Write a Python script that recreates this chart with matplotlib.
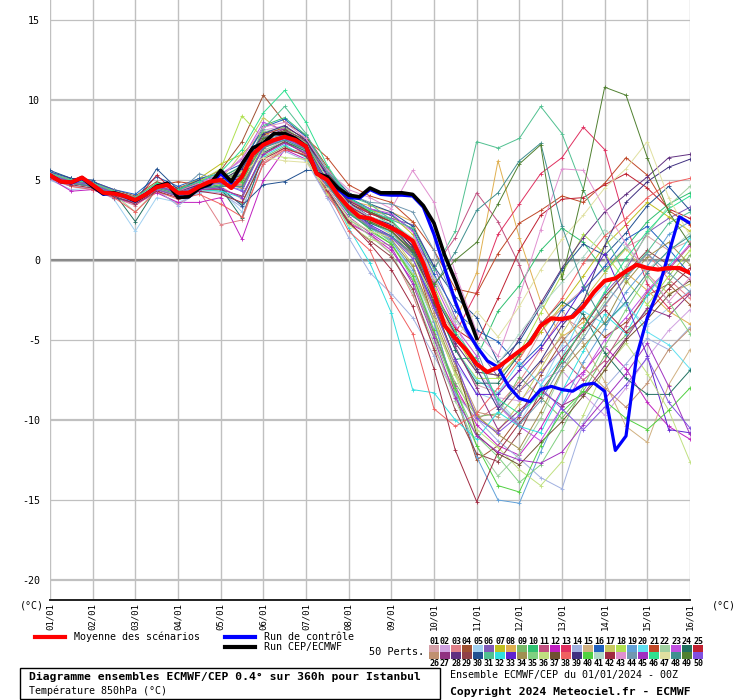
import numpy as np
import matplotlib.pyplot as plt
from matplotlib.patches import Rectangle

plt.rcParams['font.family'] = ['DejaVu Sans Mono', 'DejaVu Sans']

# echeances (heures)
hours_6h = np.arange(0, 361, 6)
hours_12h = np.arange(0, 361, 12)
hours_cep = np.arange(0, 241, 6)
day_labels = ['01/01', '02/01', '03/01', '04/01', '05/01', '06/01', '07/01', '08/01',
              '09/01', '10/01', '11/01', '12/01', '13/01', '14/01', '15/01', '16/01']
y_ticks = [-20, -15, -10, -5, 0, 5, 10, 15]

# moyenne, controle, run deterministe (pas 6h)
mean_run = [5.3, 4.9, 4.85, 5.15, 4.7, 4.2, 4.15, 4.0, 3.75, 4.1, 4.55, 4.7, 4.2, 4.2, 4.6, 4.9,
            5.0, 4.5, 5.2, 6.6, 7.2, 7.5, 7.7, 7.5, 7.1, 5.4, 5.0, 4.05, 3.3, 2.7, 2.6, 2.3,
            2.0, 1.65, 1.2, -0.2, -2.1, -4.1, -4.9, -5.6, -6.5, -7.0, -6.7, -6.2, -5.7, -5.2,
            -4.1, -3.65, -3.7, -3.55, -2.9, -2.0, -1.3, -1.15, -0.7, -0.3, -0.5, -0.6, -0.5,
            -0.5, -0.8]
control_run = [5.3, 4.9, 4.8, 5.1, 4.6, 4.1, 4.2, 4.0, 3.7, 4.1, 4.6, 4.8, 3.9, 3.95, 4.5,
               4.7, 5.4, 4.8, 6.0, 7.0, 7.3, 7.9, 7.9, 7.6, 7.1, 5.4, 5.2, 4.4, 3.9, 3.85,
               4.4, 4.1, 4.05, 4.05, 4.0, 3.3, 1.6, -0.5, -2.6, -4.3, -5.4, -6.3, -6.7, -7.9,
               -8.65, -8.85, -8.1, -7.9, -8.1, -8.2, -7.8, -7.7, -8.2, -11.9, -11.0, -6.0,
               -3.6, -1.9, 0.4, 2.7, 2.3]
cep_run = [5.3, 4.9, 4.85, 5.15, 4.6, 4.15, 4.2, 4.0, 3.7, 4.1, 4.6, 4.8, 3.9, 3.95, 4.5,
           4.75, 5.6, 4.9, 6.0, 7.0, 7.3, 7.9, 7.9, 7.6, 7.1, 5.4, 5.2, 4.5, 4.05, 3.95, 4.5,
           4.2, 4.2, 4.2, 4.1, 3.4, 2.3, 0.3, -1.3, -3.1, -4.9]

# 50 perturbations (pas 12h)
p01 = [5.2, 4.8, 4.6, 4.1, 3.6, 4.5, 4.0, 4.5, 4.6, 3.8, 6.8, 7.5, 6.8, 4.6, 3.0, 2.4, 2.0, 0.6, -2.4, -5.6, -7.8, -8.3, -6.9, -4.5, -3.0, -1.8, -0.5, 0.8, 1.5, 0.6, 1.2]
p02 = [5.4, 5.0, 4.8, 4.3, 3.9, 4.7, 4.4, 4.9, 5.4, 6.2, 8.1, 8.4, 7.5, 5.2, 3.6, 3.2, 2.6, 1.8, -1.0, -4.0, -6.9, -8.6, -8.8, -7.5, -6.9, -8.4, -9.7, -8.0, -6.1, -4.4, -3.1]
p03 = [5.1, 4.6, 4.4, 3.9, 3.4, 4.3, 3.5, 4.3, 2.2, 2.5, 6.1, 7.0, 6.7, 4.1, 2.4, 1.6, 0.4, -2.2, -5.5, -8.2, -10.0, -9.1, -7.6, -5.6, -3.5, -4.4, -2.9, -1.0, 0.4, -1.2, -2.4]
p04 = [5.5, 5.1, 4.9, 4.4, 4.0, 4.9, 4.5, 5.0, 5.6, 7.4, 10.3, 8.6, 7.8, 5.8, 3.8, 3.0, 2.5, 0.4, -3.8, -8.4, -12.5, -11.6, -9.8, -7.2, -5.1, -3.6, -4.8, -3.9, -2.2, -1.5, -2.8]
p05 = [5.0, 4.4, 4.5, 3.8, 1.8, 3.9, 3.6, 4.2, 4.4, 3.0, 7.0, 7.6, 6.6, 4.4, 2.9, 2.2, 1.2, -0.8, -4.3, -6.5, -8.3, -8.8, -10.2, -7.9, -5.3, -3.0, -1.6, -2.9, -4.1, -3.0, -1.9]
p06 = [5.3, 4.9, 4.8, 4.2, 3.8, 4.6, 4.3, 4.8, 5.2, 5.8, 7.9, 8.2, 7.4, 5.3, 3.5, 2.9, 2.6, 2.2, -0.4, -3.6, -5.5, -7.3, -8.2, -7.0, -5.6, -4.3, -2.1, -0.6, 1.7, 2.6, 3.3]
p07 = [5.4, 5.0, 4.7, 4.2, 3.9, 4.8, 4.4, 5.1, 6.0, 6.6, 8.0, 7.3, 7.0, 4.9, 3.4, 3.1, 2.8, 1.6, -1.6, -4.8, -7.0, -7.2, -6.0, -4.5, -2.8, -1.0, 0.9, 2.2, 3.6, 2.7, 1.8]
p08 = [5.2, 4.8, 4.6, 4.1, 3.7, 4.5, 4.1, 4.5, 4.8, 5.3, 7.3, 7.9, 7.2, 5.0, 3.7, 3.4, 3.0, 2.4, -1.2, -3.8, -0.8, 6.2, 1.4, -2.6, -4.8, -3.9, -2.3, -0.8, -1.9, -3.2, -4.0]
p09 = [5.3, 4.9, 4.7, 4.2, 3.7, 4.4, 4.0, 4.4, 4.3, 3.5, 6.4, 7.1, 6.5, 4.2, 2.5, 1.8, 1.0, -0.9, -4.6, -7.7, -9.8, -9.6, -7.3, -8.6, -9.9, -8.2, -6.0, -4.7, -3.1, -1.4, 0.3]
p10 = [5.2, 4.8, 4.8, 4.3, 3.9, 4.7, 4.3, 4.7, 5.1, 5.9, 8.4, 8.9, 7.8, 5.6, 3.9, 3.0, 2.2, 0.6, -3.0, -6.2, -6.1, -3.2, -1.6, 0.6, 2.0, 1.1, -0.7, 0.8, 2.4, 3.5, 4.2]
p11 = [5.4, 5.0, 4.9, 4.3, 3.9, 4.6, 4.2, 4.7, 4.9, 4.9, 7.3, 7.8, 7.1, 5.4, 3.8, 2.9, 2.4, 1.2, -0.5, 1.4, 4.2, 2.4, -0.3, -3.9, -6.2, -7.5, -6.3, -4.1, -2.0, -0.6, 0.9]
p12 = [5.1, 4.3, 4.4, 3.9, 3.5, 4.2, 3.6, 3.6, 3.9, 1.3, 5.0, 6.9, 6.3, 4.0, 2.3, 1.6, 0.6, -1.3, -4.6, -7.9, -10.3, -11.6, -12.2, -10.5, -8.1, -7.0, -5.4, -6.8, -8.9, -10.4, -11.2]
p13 = [5.3, 4.9, 4.6, 4.2, 3.8, 4.6, 4.2, 4.7, 4.8, 4.6, 7.0, 7.7, 7.0, 5.1, 3.4, 2.6, 1.9, 0.4, -2.8, -4.6, -2.0, 1.6, 3.5, 5.4, 6.4, 8.3, 6.9, 2.2, -1.5, -3.0, -2.0]
p14 = [5.0, 4.6, 4.5, 4.0, 3.5, 4.4, 3.4, 4.3, 4.2, 3.3, 6.0, 6.8, 6.2, 3.9, 1.4, -0.8, -2.1, -3.6, -6.0, -8.4, -9.9, -11.3, -12.4, -13.6, -14.3, -10.2, -8.0, -6.5, -4.9, -5.6, -4.2]
p15 = [5.2, 4.9, 4.7, 4.2, 3.8, 4.6, 4.2, 4.6, 4.9, 5.1, 7.4, 7.9, 7.2, 5.0, 3.3, 2.5, 2.1, 1.3, -1.8, -4.9, -6.6, -7.3, -5.9, -4.0, -3.1, -5.2, -7.6, -10.4, -11.4, -7.8, -5.6]
p16 = [5.5, 5.1, 4.9, 4.4, 4.1, 5.2, 4.6, 5.1, 5.4, 6.0, 8.3, 8.8, 7.7, 5.5, 3.9, 3.2, 2.8, 1.9, -0.9, -3.2, -4.4, -5.1, -6.6, -5.3, -3.1, -1.9, -0.4, 1.3, 2.1, 0.7, -0.9]
p17 = [5.3, 4.8, 4.6, 4.1, 3.6, 4.4, 4.1, 4.6, 5.0, 6.7, 8.9, 7.9, 7.3, 5.1, 3.4, 2.4, 1.6, -0.3, -3.9, -7.1, -9.8, -10.7, -9.0, -6.8, -4.6, -2.5, -0.8, 0.7, -0.9, -2.1, -1.5]
p18 = [5.4, 5.0, 4.8, 4.3, 3.9, 4.7, 4.4, 4.9, 5.7, 9.0, 7.6, 8.0, 7.1, 4.8, 3.1, 2.0, 1.5, 0.3, -2.6, -5.6, -7.4, -7.4, -5.8, -3.3, -0.9, 1.6, 0.4, -1.3, -2.8, -1.0, 0.6]
p19 = [5.2, 4.8, 4.6, 4.1, 3.7, 4.5, 4.2, 4.6, 4.7, 4.4, 7.1, 7.5, 6.9, 4.7, 2.9, 2.0, 1.2, -0.6, -3.9, -8.2, -12.3, -15.0, -15.2, -12.0, -9.1, -6.4, -4.3, -2.0, -0.4, 1.6, 2.4]
p20 = [5.3, 4.9, 4.7, 4.2, 3.8, 4.6, 4.2, 4.6, 4.9, 5.0, 7.5, 7.9, 7.1, 5.0, 3.2, 2.3, 1.7, 0.2, -2.7, -5.6, -7.5, -8.3, -6.4, -7.8, -6.1, -3.2, -4.0, -2.7, -4.5, -5.3, -6.8]
p21 = [5.3, 4.9, 4.8, 4.3, 3.8, 4.6, 4.9, 4.7, 5.0, 5.5, 7.8, 8.3, 7.6, 6.4, 4.7, 4.0, 3.6, 2.4, 0.6, -1.8, -2.1, 0.4, 2.3, 3.1, 4.0, 3.6, 4.8, 6.4, 5.3, 3.1, 2.2]
p22 = [5.2, 4.8, 4.6, 4.1, 3.0, 4.4, 4.1, 4.5, 4.6, 4.8, 6.9, 7.3, 6.8, 4.5, 2.6, 1.5, 0.4, -2.0, -5.2, -8.8, -11.6, -13.5, -12.1, -9.9, -7.0, -4.6, -2.6, -0.4, 1.6, 3.4, 4.6]
p23 = [5.4, 5.0, 4.8, 4.2, 3.9, 4.7, 4.4, 4.9, 5.3, 6.3, 8.6, 8.1, 7.3, 5.2, 3.7, 3.2, 2.9, 1.8, -1.4, -4.2, -6.0, -9.1, -10.4, -11.3, -9.2, -7.1, -5.0, -3.6, -1.9, -0.5, 1.0]
p24 = [5.3, 4.9, 4.7, 4.2, 2.4, 4.5, 4.1, 4.5, 4.5, 2.6, 6.7, 7.4, 6.8, 4.8, 3.1, 2.3, 1.8, 0.5, -2.6, -5.6, -7.7, -7.7, -5.9, -4.0, -2.6, -3.4, -5.8, -7.4, -8.4, -8.4, -6.9]
p25 = [5.2, 4.8, 4.7, 4.2, 3.7, 5.3, 4.1, 4.6, 4.8, 5.6, 7.7, 8.0, 7.4, 5.3, 3.6, 2.9, 2.4, 1.1, -2.0, -4.3, -5.2, -2.4, 0.6, 2.8, 3.8, 3.9, 4.7, 5.4, 4.5, 3.2, 2.6]
p26 = [5.3, 4.9, 4.7, 4.2, 3.8, 4.6, 4.2, 4.6, 4.8, 4.7, 7.1, 7.8, 7.1, 4.9, 3.2, 2.4, 1.8, 0.2, -3.3, -6.6, -9.5, -9.8, -8.2, -6.4, -4.8, -6.7, -8.0, -9.2, -7.7, -5.6, -4.3]
p27 = [5.4, 5.0, 4.8, 4.3, 3.9, 4.7, 4.4, 4.8, 5.1, 5.4, 7.6, 8.2, 7.4, 5.3, 3.5, 2.7, 2.2, 0.9, -2.3, -5.4, -8.0, -10.6, -9.4, -8.2, -9.1, -8.4, -6.6, -4.9, -3.0, -3.5, -2.1]
p28 = [5.2, 4.8, 4.6, 4.2, 3.7, 4.5, 4.2, 4.6, 4.9, 5.2, 7.4, 7.9, 7.1, 5.0, 3.4, 2.6, 2.0, 0.7, -2.5, -5.2, -7.0, -7.2, -4.9, -2.7, -0.5, 1.4, 3.0, 4.1, 5.2, 6.4, 6.6]
p29 = [5.3, 4.9, 4.7, 4.1, 3.7, 4.4, 4.0, 4.4, 4.4, 4.0, 6.6, 7.4, 6.6, 4.3, 2.3, 1.2, 0.2, -1.8, -5.6, -9.4, -12.1, -12.6, -10.8, -8.2, -6.4, -4.2, -2.3, -0.8, 0.6, -0.3, -1.2]
p30 = [5.6, 5.1, 5.0, 3.9, 3.6, 5.7, 4.4, 5.0, 4.5, 3.4, 4.7, 4.9, 5.6, 5.6, 4.2, 3.5, 3.0, 2.1, -0.4, -2.3, -3.6, -6.4, -5.1, -2.9, -0.6, 1.0, 0.3, 1.7, 3.4, 4.6, 3.1]
p31 = [5.3, 4.9, 4.7, 4.2, 3.8, 4.6, 4.3, 4.7, 5.0, 5.3, 8.2, 9.6, 7.9, 5.6, 4.0, 3.5, 2.5, 2.0, -0.6, 1.8, 7.4, 7.0, 7.6, 9.6, 7.9, 4.4, 1.5, -1.0, 0.5, 2.3, 3.0]
p32 = [5.2, 4.8, 4.6, 4.1, 3.6, 4.4, 4.0, 4.4, 4.3, 3.9, 6.5, 7.2, 6.4, 4.6, 2.0, -0.2, -3.3, -8.1, -8.3, -10.0, -11.2, -9.5, -10.4, -10.8, -8.2, -5.7, -3.4, -4.6, -2.2, -0.4, 1.4]
p33 = [5.3, 4.9, 4.7, 4.2, 3.8, 4.6, 4.2, 4.7, 4.9, 5.1, 7.2, 7.6, 7.0, 4.9, 3.2, 2.2, 1.5, 0.2, -2.9, -6.2, -8.4, -8.4, -6.9, -5.5, -3.8, -1.7, 0.4, -2.6, -6.0, -10.6, -10.8]
p34 = [5.3, 4.8, 4.7, 4.2, 3.7, 4.5, 4.2, 4.6, 4.8, 4.5, 7.0, 7.7, 6.9, 4.7, 3.0, 2.1, 1.3, -0.4, -3.6, -6.9, -9.7, -10.9, -11.8, -9.5, -6.9, -5.4, -3.9, -1.4, 0.2, 1.1, -0.3]
p35 = [5.2, 4.8, 4.6, 4.1, 3.7, 4.6, 4.2, 4.6, 4.9, 5.6, 8.0, 8.3, 7.3, 5.0, 3.1, 2.1, 1.1, -1.2, -4.8, -8.1, -11.0, -12.3, -13.9, -12.8, -10.6, -7.9, -5.4, -3.1, -1.0, -2.6, -4.6]
p36 = [5.3, 4.9, 4.7, 4.2, 3.8, 4.6, 4.2, 4.6, 4.8, 5.9, 6.7, 6.4, 6.3, 4.1, 2.2, 1.3, 0.9, -0.9, -3.7, -7.2, -10.6, -11.7, -13.1, -14.1, -12.6, -9.7, -6.8, -5.2, -7.1, -9.4, -12.6]
p37 = [5.4, 5.0, 4.8, 4.3, 3.9, 4.7, 4.3, 4.8, 5.1, 5.0, 7.6, 8.1, 7.5, 5.5, 3.7, 3.0, 2.4, 0.8, -2.7, -6.3, -10.9, -12.1, -12.8, -11.4, -10.1, -8.5, -6.9, -5.0, -3.7, -2.2, -1.3]
p38 = [5.1, 4.6, 4.4, 3.9, 3.0, 4.3, 3.8, 4.1, 3.5, 2.7, 6.0, 6.9, 6.6, 4.3, 1.8, 0.6, -2.4, -4.6, -9.3, -10.4, -9.6, -8.0, -6.2, -4.1, -2.4, -0.2, 1.5, 2.6, 3.9, 4.8, 5.1]
p39 = [5.3, 4.9, 4.8, 4.2, 3.8, 4.6, 4.3, 4.7, 5.0, 5.7, 7.9, 8.4, 7.5, 5.3, 3.6, 2.7, 2.2, 0.9, -2.2, -4.6, -6.8, -9.3, -7.8, -6.3, -4.1, -2.6, 0.9, 3.6, 4.9, 5.8, 6.3]
p40 = [5.2, 4.8, 4.6, 4.1, 3.7, 4.5, 4.1, 4.5, 4.7, 4.9, 7.3, 7.8, 7.1, 4.9, 3.0, 1.9, 1.0, -1.0, -4.4, -8.0, -11.6, -14.1, -14.5, -11.6, -9.5, -8.2, -8.8, -9.9, -10.6, -9.4, -8.0]
p41 = [5.3, 4.9, 4.7, 4.2, 3.8, 4.6, 4.2, 4.6, 4.9, 5.2, 7.5, 7.8, 7.1, 5.1, 3.5, 2.7, 2.3, 1.4, -1.1, -3.8, -5.2, -6.5, -4.6, -2.9, -1.4, 0.2, 1.9, 0.8, -0.6, 0.5, 1.7]
p42 = [5.2, 4.7, 4.5, 4.0, 3.5, 4.3, 3.9, 4.3, 4.1, 3.6, 6.3, 7.0, 6.5, 4.4, 2.4, 1.0, -0.6, -2.9, -6.8, -11.9, -15.1, -12.0, -10.2, -8.6, -6.1, -4.4, -3.1, -4.5, -3.3, -1.8, -0.5]
p43 = [5.4, 5.0, 4.8, 4.3, 3.9, 4.7, 4.3, 4.8, 5.2, 6.4, 8.3, 8.6, 7.6, 5.6, 4.4, 3.9, 3.2, 5.6, 3.6, -0.8, -4.5, -6.0, -2.3, 1.9, 5.7, 5.6, 3.2, 1.0, -0.8, -2.6, -1.1]
p44 = [5.3, 4.9, 4.7, 4.2, 3.8, 4.6, 4.2, 5.4, 4.9, 5.4, 7.7, 8.0, 7.2, 5.5, 4.1, 3.6, 3.5, 3.0, 0.6, -2.8, -5.6, -9.0, -10.3, -8.8, -6.6, -4.9, -2.8, -1.1, 0.4, -0.8, -2.0]
p45 = [5.2, 4.8, 4.6, 4.1, 3.6, 4.4, 4.0, 4.4, 4.5, 3.9, 6.6, 7.3, 6.7, 4.5, 2.7, 1.7, 0.8, -1.5, -4.9, -8.6, -11.0, -12.0, -12.5, -12.7, -12.0, -10.3, -8.7, -7.1, -5.2, -7.9, -10.9]
p46 = [5.4, 5.0, 4.8, 4.3, 3.9, 4.8, 4.4, 4.9, 5.5, 6.9, 9.2, 10.6, 8.6, 5.9, 3.9, 3.1, 2.5, 1.1, -1.9, -4.5, -6.3, -8.7, -9.6, -8.4, -6.3, -4.2, -2.0, 0.1, 1.8, 3.2, 4.0]
p47 = [5.3, 4.9, 4.7, 4.2, 3.7, 4.5, 4.1, 4.5, 4.8, 5.5, 6.4, 6.2, 6.1, 4.5, 2.6, 1.8, 1.4, 0.2, -2.4, -4.9, -3.2, -4.8, -2.9, -0.6, 1.3, 2.8, 4.5, 5.7, 7.4, 3.9, 1.5]
p48 = [5.2, 4.8, 4.6, 4.1, 3.7, 4.5, 4.1, 4.5, 4.6, 4.6, 7.0, 7.5, 6.9, 4.7, 2.9, 2.0, 1.5, 0.4, -1.6, 0.5, 3.1, 4.2, 6.2, 7.3, 2.1, -1.6, -4.0, -2.6, -0.8, 0.6, 1.5]
p49 = [5.3, 4.9, 4.7, 4.2, 3.8, 4.6, 4.2, 4.6, 4.9, 5.3, 7.6, 8.0, 7.2, 4.9, 3.1, 2.4, 1.8, 0.6, -1.5, 0.0, 1.1, 3.5, 6.0, 7.2, -1.2, 4.4, 10.8, 10.3, 6.4, 3.0, 1.0]
p50 = [5.3, 4.9, 4.7, 4.2, 3.8, 4.6, 4.2, 4.6, 4.8, 4.3, 7.1, 7.6, 7.0, 4.9, 3.1, 2.1, 1.4, 0.1, -3.0, -6.3, -9.9, -10.8, -9.7, -8.0, -9.3, -10.6, -9.2, -7.8, -6.1, -8.9, -10.5]

pert_colors = ['#d4a0a8', '#d0a0e0', '#e08088', '#a05030', '#a0d0f0', '#8058b8', '#c0c020',
               '#e0b050', '#78b868', '#30c070', '#c05080', '#c020c0', '#e03060', '#a0b0e0',
               '#d0b080', '#2060c0', '#c8c860', '#b0e050', '#60a0d8', '#60e0f0', '#c04828',
               '#a0d0a0', '#c050e0', '#207060', '#c02030', '#c09070', '#903080', '#603080',
               '#904048', '#205090', '#50c090', '#30e0e0', '#6020d0', '#a09050', '#80d080',
               '#c0e080', '#705030', '#f06060', '#403080', '#50d040', '#b0d8c8', '#a02840',
               '#e090d0', '#7098b0', '#a030c0', '#30e090', '#e0e0a0', '#409090', '#508030',
               '#8050e0']

perts = [p01, p02, p03, p04, p05, p06, p07, p08, p09, p10, p11, p12, p13, p14, p15, p16, p17,
         p18, p19, p20, p21, p22, p23, p24, p25, p26, p27, p28, p29, p30, p31, p32, p33, p34,
         p35, p36, p37, p38, p39, p40, p41, p42, p43, p44, p45, p46, p47, p48, p49, p50]

W, H = 740, 700
fig = plt.figure(figsize=(W / 100, H / 100), dpi=100)
fig.patch.set_facecolor('white')
ax = fig.add_axes([50 / W, 100 / H, 640 / W, 600 / H])

for vals, c in zip(perts, pert_colors):
    ax.plot(hours_12h, vals, color=c, lw=0.7, marker='+', ms=3, mew=0.6, zorder=2)

ax.plot(hours_6h, control_run, color='#0000ff', lw=2.3, zorder=4)
ax.plot(hours_cep, cep_run, color='black', lw=2.6, zorder=5)
ax.plot(hours_6h, mean_run, color='#ff0000', lw=3.0, zorder=6)

# grille
ax.set_xlim(0, 360)
ax.set_ylim(-21.25, 16.25)
ax.set_xticks(np.arange(0, 361, 24))
ax.set_xticklabels(day_labels, rotation=90, fontsize=6.5, va='top')
ax.set_yticks(y_ticks)
ax.set_yticklabels([str(v) for v in y_ticks], fontsize=7.2)
ax.tick_params(length=0, pad=2)
ax.tick_params(axis='y', pad=7)
ax.grid(axis='x', color='#c0c0c0', lw=1.0, zorder=0)
for v in y_ticks:
    if v == 0:
        ax.axhline(v, color='#888888', lw=1.6, zorder=1)
        ax.axhline(v - 0.09, color='#c0c0c0', lw=0.8, zorder=1)
    elif v % 10 == 0:
        ax.axhline(v, color='#c0c0c0', lw=1.6, zorder=0)
    else:
        ax.axhline(v, color='#c0c0c0', lw=0.9, zorder=0)
for s in ['top', 'left', 'right']:
    ax.spines[s].set_visible(False)
ax.spines['bottom'].set_color('#202020')
ax.spines['bottom'].set_linewidth(1.4)

# habillage (coordonnees en pixels)
ov = fig.add_axes([0, 0, 1, 1])
ov.set_xlim(0, W)
ov.set_ylim(H, 0)
ov.axis('off')
ov.patch.set_alpha(0)

ov.text(20, 606, '(°C)', fontsize=7.2, va='center')
ov.text(712, 606, '(°C)', fontsize=7.2, va='center')

ov.plot([35, 65], [637, 637], color='#ff0000', lw=3)
ov.text(74, 637, 'Moyenne des scénarios', fontsize=7.2, va='center')
ov.plot([225, 255], [637, 637], color='#0000ff', lw=3)
ov.text(264, 637, 'Run de contrôle', fontsize=7.2, va='center')
ov.plot([225, 255], [647, 647], color='black', lw=3)
ov.text(264, 647, 'Run CEP/ECMWF', fontsize=7.2, va='center')

ov.text(369, 652, '50 Perts.', fontsize=7.4, va='center')
for k in range(25):
    x0 = 429 + 11 * k
    ov.add_patch(Rectangle((x0, 645), 10, 7, color=pert_colors[k], lw=0))
    ov.add_patch(Rectangle((x0, 652), 10, 7, color=pert_colors[25 + k], lw=0))
    ov.text(x0 + 5, 641, f'{k + 1:02d}', fontsize=6, weight='bold', ha='center', va='center')
    ov.text(x0 + 5, 663, f'{k + 26:02d}', fontsize=6, weight='bold', ha='center', va='center')

ov.add_patch(Rectangle((20, 668), 420, 31, fill=False, ec='black', lw=1))
ov.text(29, 677, 'Diagramme ensembles ECMWF/CEP 0.4° sur 360h pour Istanbul',
        fontsize=8.2, weight='bold', va='center')
ov.text(29, 691, 'Température 850hPa (°C)', fontsize=7.2, va='center')
ov.text(450, 675, 'Ensemble ECMWF/CEP du 01/01/2024 - 00Z', fontsize=7.2, va='center')
ov.text(450, 692, 'Copyright 2024 Meteociel.fr - ECMWF', fontsize=8.2, weight='bold',
        va='center')

fig.savefig('out.png', dpi=100)
